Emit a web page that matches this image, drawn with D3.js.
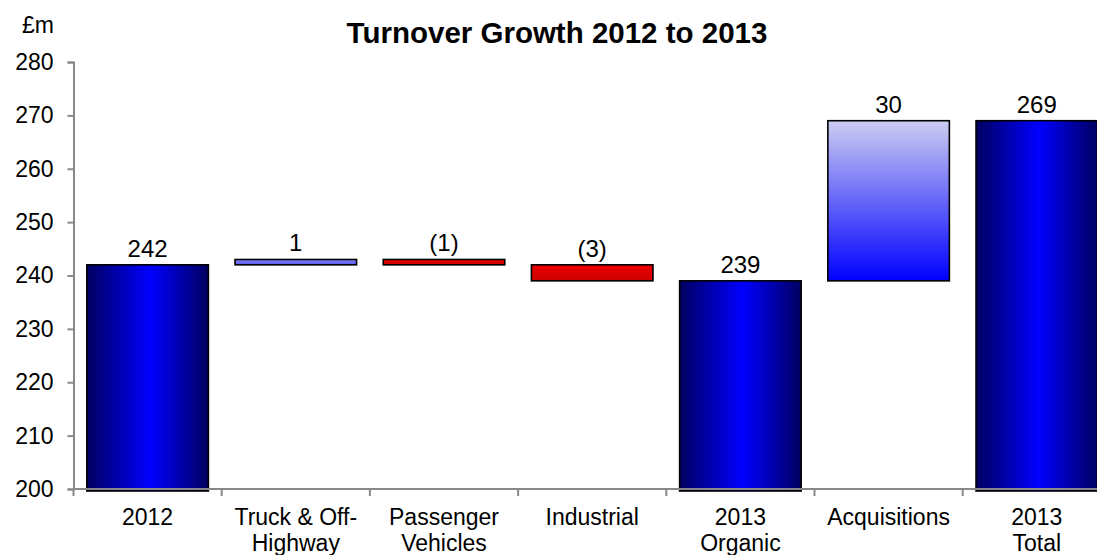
<!DOCTYPE html>
<html>
<head>
<meta charset="utf-8">
<script src="https://cdn.jsdelivr.net/npm/d3@7"></script>
<style>
  html, body { margin: 0; padding: 0; background: #fff; }
  svg { display: block; font-family: "Liberation Sans", Arial, Helvetica, sans-serif; }
</style>
</head>
<body>
<svg id="chart" width="1097" height="555"></svg>
<script>
// Waterfall: turnover bridge 2012 -> 2013 (£m)
const categories = ["2012", "Truck & Off-\nHighway", "Passenger\nVehicles", "Industrial", "2013\nOrganic", "Acquisitions", "2013\nTotal"];
const values     = [242, 1, -1, -3, 239, 30, 269];
const kinds      = ["total", "up", "down", "down", "total", "acq", "total"];
const yTicks     = [200, 210, 220, 230, 240, 250, 260, 270, 280];
const titleText  = "Turnover Growth 2012 to 2013";
const unitText   = "£m";

const svg = d3.select("#chart");
const W = 1097;
const plotLeft = 73.5, plotTop = 62, plotBottom = 489;
const step = 148.2;

const x = d3.scaleBand()
  .domain(categories)
  .range([plotLeft, plotLeft + step * categories.length])
  .paddingInner(0.18)
  .paddingOuter(0.09);

const y = d3.scaleLinear().domain([200, 280]).range([plotBottom, plotTop]);

// Build waterfall segments: running total for deltas, absolute for totals
let running = 0;
const bars = categories.map((c, i) => {
  const v = values[i], k = kinds[i];
  let lo, hi;
  if (k === "total") { lo = 200; hi = v; running = v; }
  else { const start = running; running += v; lo = Math.min(start, running); hi = Math.max(start, running); }
  const label = v < 0 ? "(" + Math.abs(v) + ")" : String(v);
  return { c, v, k, lo, hi, label };
});

// Gradients
const defs = svg.append("defs");
const gTotal = defs.append("linearGradient").attr("id", "gTotal")
  .attr("x1", "0%").attr("x2", "100%").attr("y1", "0%").attr("y2", "0%");
gTotal.append("stop").attr("offset", "0%").attr("stop-color", "#000060");
gTotal.append("stop").attr("offset", "52%").attr("stop-color", "#0000ff");
gTotal.append("stop").attr("offset", "100%").attr("stop-color", "#000060");

const gAcq = defs.append("linearGradient").attr("id", "gAcq")
  .attr("x1", "0%").attr("x2", "0%").attr("y1", "0%").attr("y2", "100%");
gAcq.append("stop").attr("offset", "0%").attr("stop-color", "#cdcdf2");
gAcq.append("stop").attr("offset", "100%").attr("stop-color", "#0000ff");

const gRed = defs.append("linearGradient").attr("id", "gRed")
  .attr("x1", "0%").attr("x2", "0%").attr("y1", "0%").attr("y2", "100%");
gRed.append("stop").attr("offset", "0%").attr("stop-color", "#ee0000");
gRed.append("stop").attr("offset", "100%").attr("stop-color", "#cc0000");

const gUp = defs.append("linearGradient").attr("id", "gUp")
  .attr("x1", "0%").attr("x2", "0%").attr("y1", "0%").attr("y2", "100%");
gUp.append("stop").attr("offset", "0%").attr("stop-color", "#8080ff");
gUp.append("stop").attr("offset", "100%").attr("stop-color", "#5a5ae8");

const fillFor = { total: "url(#gTotal)", acq: "url(#gAcq)", down: "url(#gRed)", up: "url(#gUp)" };

// Bars
svg.append("g").selectAll("rect").data(bars).enter().append("rect")
  .attr("x", d => x(d.c))
  .attr("width", x.bandwidth())
  .attr("y", d => y(d.hi))
  .attr("height", d => y(d.lo) - y(d.hi) + (d.k === "total" ? 2 : 0))
  .attr("fill", d => fillFor[d.k])
  .attr("stroke", "#000")
  .attr("stroke-width", 1.6);

// Value labels
svg.append("g").selectAll("text").data(bars).enter().append("text")
  .attr("x", d => x(d.c) + x.bandwidth() / 2)
  .attr("y", d => y(d.hi) - 8)
  .attr("text-anchor", "middle")
  .attr("font-size", 24)
  .attr("fill", "#000")
  .text(d => d.label);

// Y axis
const yAxis = svg.append("g").attr("transform", `translate(${plotLeft},0)`)
  .call(d3.axisLeft(y).tickValues(yTicks).tickSize(6).tickPadding(14).tickFormat(d3.format("d")));
yAxis.select(".domain").attr("stroke", "#888").attr("stroke-width", 2);
yAxis.selectAll(".tick line").attr("stroke", "#888").attr("stroke-width", 2);
yAxis.selectAll(".tick text").attr("font-size", 23).attr("fill", "#000")
  .attr("font-family", "'Liberation Sans', Arial, sans-serif");

// X axis: baseline with boundary ticks between categories
const xg = svg.append("g");
const bounds = categories.map(c => x(c) - x.step() * x.paddingOuter());
xg.append("line")
  .attr("x1", plotLeft).attr("x2", W)
  .attr("y1", y(200)).attr("y2", y(200))
  .attr("stroke", "#888").attr("stroke-width", 2);
xg.selectAll("line.tk").data(bounds).enter().append("line")
  .attr("class", "tk")
  .attr("x1", d => d).attr("x2", d => d)
  .attr("y1", y(200)).attr("y2", y(200) + 7)
  .attr("stroke", "#888").attr("stroke-width", 2);

// Category labels (two lines where needed)
const catG = xg.selectAll("text.cat").data(categories).enter().append("text")
  .attr("class", "cat")
  .attr("x", d => x(d) + x.bandwidth() / 2)
  .attr("y", 525)
  .attr("text-anchor", "middle")
  .attr("font-size", 23)
  .attr("fill", "#000");
catG.each(function(d) {
  const lines = d.split("\n");
  const t = d3.select(this);
  lines.forEach((ln, i) => {
    t.append("tspan")
      .attr("x", x(d) + x.bandwidth() / 2)
      .attr("dy", i === 0 ? 0 : 26)
      .text(ln);
  });
});

// Title and unit
svg.append("text")
  .attr("x", 557).attr("y", 43)
  .attr("text-anchor", "middle")
  .attr("font-size", 29.5).attr("font-weight", "bold")
  .attr("fill", "#000")
  .text(titleText);

svg.append("text")
  .attr("x", 22).attr("y", 33)
  .attr("font-size", 23)
  .attr("fill", "#000")
  .text(unitText);
</script>
</body>
</html>
